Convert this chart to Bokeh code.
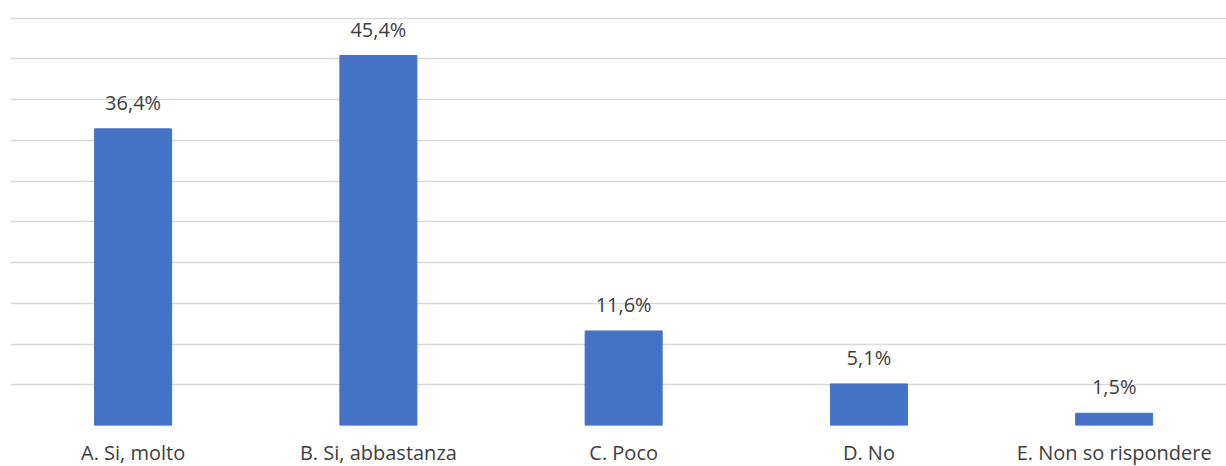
from bokeh.plotting import figure
from bokeh.models import ColumnDataSource, FixedTicker, Range1d, LabelSet
from bokeh.core.properties import value
from bokeh.embed import file_html
from bokeh.resources import INLINE

categories = ["A. Si, molto", "B. Si, abbastanza", "C. Poco", "D. No", "E. Non so rispondere"]
values = [36.4, 45.4, 11.6, 5.1, 1.5]
labels = ["36,4%", "45,4%", "11,6%", "5,1%", "1,5%"]
grid_ticks = [0, 5, 10, 15, 20, 25, 30, 35, 40, 45, 50]

xs = list(range(len(categories)))
src = ColumnDataSource(dict(x=xs, top=values, lab=labels))

p = figure(frame_width=1216, frame_height=425, output_backend="svg", toolbar_location=None,
           x_range=Range1d(-0.5, 4.458), y_range=Range1d(0, 52.15),
           min_border_left=10, min_border_right=0, min_border_top=0, min_border_bottom=0)
p.outline_line_color = None
p.vbar(x="x", top="top", width=0.314, bottom=0, source=src, color="#4472C4")

p.add_layout(LabelSet(x="x", y="top", text="lab", source=src, text_align="center",
                      text_baseline="bottom", y_offset=13, text_font=value("Open Sans"),
                      text_font_size="20px", text_color="#404040"))

p.yaxis.visible = False
p.ygrid.ticker = FixedTicker(ticks=grid_ticks)
p.ygrid.grid_line_color = "#d9d9d9"
p.ygrid.grid_line_width = 1.5
p.xgrid.visible = False

p.xaxis.ticker = FixedTicker(ticks=xs)
p.xaxis.major_label_overrides = {i: c for i, c in enumerate(categories)}
p.xaxis.axis_line_color = None
p.xaxis.major_tick_line_color = None
p.xaxis.minor_tick_line_color = None
p.xaxis.major_tick_out = 0
p.xaxis.major_tick_in = 0
p.xaxis.major_label_standoff = 13
p.xaxis.major_label_text_font = "Open Sans"
p.xaxis.major_label_text_font_size = "20px"
p.xaxis.major_label_text_color = "#404040"

open("out.html", "w").write(file_html(p, INLINE))
